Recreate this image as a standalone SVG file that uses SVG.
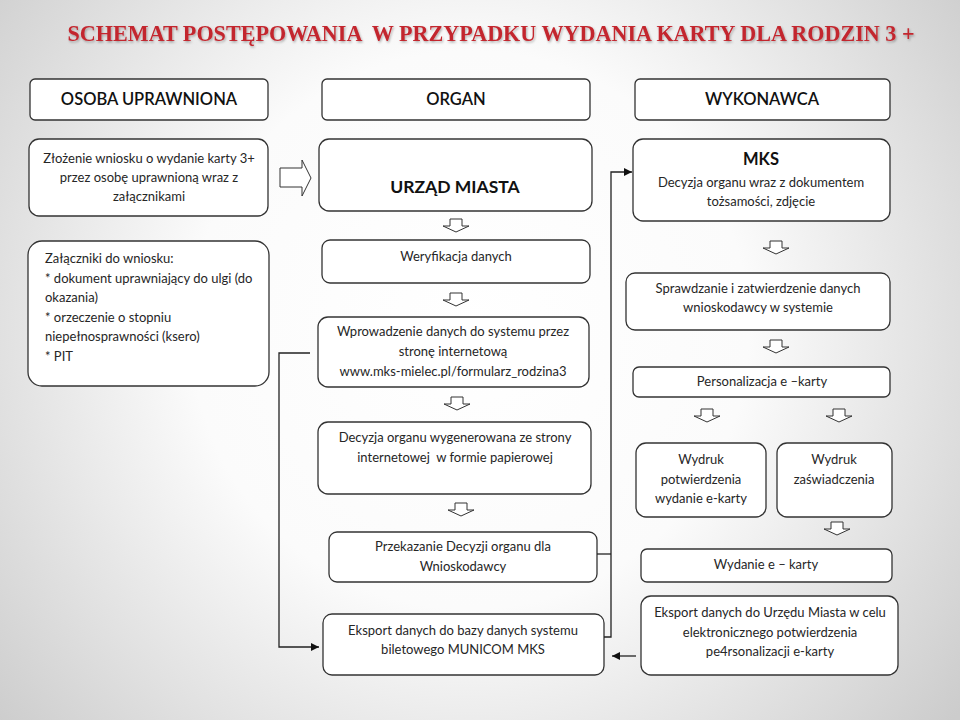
<svg xmlns="http://www.w3.org/2000/svg" width="960" height="720" viewBox="0 0 960 720">
<defs>
  <radialGradient id="bg" cx="470" cy="330" r="620" gradientUnits="userSpaceOnUse">
    <stop offset="0" stop-color="#ffffff"/>
    <stop offset="0.45" stop-color="#fbfbfb"/>
    <stop offset="1" stop-color="#cccccc"/>
  </radialGradient>
  <filter id="shadow" x="-5%" y="-30%" width="110%" height="160%">
    <feDropShadow dx="1" dy="1.5" stdDeviation="1" flood-color="#000" flood-opacity="0.3"/>
  </filter>
  <marker id="ah" viewBox="0 0 10 10" refX="10" refY="5" markerWidth="8" markerHeight="8" markerUnits="userSpaceOnUse" orient="auto">
    <path d="M0,0 L10,5 L0,10 Z" fill="#111"/>
  </marker>
  <path id="down" d="M-6,0 H6 V7 H13 L0,13 L-13,7 H-6 Z"/>
  <style>
    .box { fill: #ffffff; stroke: #333333; stroke-width: 1.3; }
    .t { font-family: Lato, "Liberation Sans", sans-serif; font-size: 13px; fill: #262626; text-anchor: middle; }
    .tl { font-family: Lato, "Liberation Sans", sans-serif; font-size: 13px; fill: #262626; }
    .h { font-family: Lato, "Liberation Sans", sans-serif; font-size: 16.5px; font-weight: 600; fill: #111; text-anchor: middle; }
    .hb { font-family: Lato, "Liberation Sans", sans-serif; font-size: 17.5px; font-weight: bold; fill: #111; text-anchor: middle; }
    .arr { fill: #ffffff; stroke: #333333; stroke-width: 1; }
    .conn { fill: none; stroke: #222; stroke-width: 1.3; }
  </style>
</defs>
<rect width="960" height="720" fill="url(#bg)"/>

<text x="491" y="41" font-family="'Liberation Serif', serif" font-size="23" font-weight="bold" fill="#c3262e" textLength="847" lengthAdjust="spacingAndGlyphs" text-anchor="middle" filter="url(#shadow)" xml:space="preserve">SCHEMAT POSTĘPOWANIA  W PRZYPADKU WYDANIA KARTY DLA RODZIN 3 +</text>

<g id="hdr-osoba"><rect class="box" x="30" y="79" width="238" height="41" rx="5"/><text class="h" x="149" y="105">OSOBA UPRAWNIONA</text></g>
<g id="hdr-organ"><rect class="box" x="322" y="79" width="268" height="41" rx="5"/><text class="h" x="456" y="105">ORGAN</text></g>
<g id="hdr-wykonawca"><rect class="box" x="635" y="79" width="255" height="41" rx="5"/><text class="h" x="762" y="105">WYKONAWCA</text></g>

<g id="zlozenie"><rect class="box" x="29" y="139" width="239" height="77" rx="10"/>
<text class="t" x="149" y="163">Złożenie wniosku o wydanie karty 3+</text>
<text class="t" x="149" y="182">przez osobę uprawnioną wraz z</text>
<text class="t" x="149" y="201">załącznikami</text></g>

<g id="zalaczniki"><rect class="box" x="28" y="241" width="241" height="145" rx="14"/>
<text class="tl" x="45" y="263">Załączniki do wniosku:</text>
<text class="tl" x="45" y="283">* dokument uprawniający do ulgi (do</text>
<text class="tl" x="45" y="302">okazania)</text>
<text class="tl" x="45" y="322">* orzeczenie o stopniu</text>
<text class="tl" x="45" y="341">niepełnosprawności (ksero)</text>
<text class="tl" x="45" y="361">* PIT</text></g>

<g id="urzad"><rect class="box" x="319" y="139" width="273" height="72" rx="10"/><text class="hb" x="455" y="193">URZĄD MIASTA</text></g>
<g id="weryfikacja"><rect class="box" x="322" y="240" width="268" height="43" rx="8"/><text class="t" x="456" y="261">Weryfikacja danych</text></g>
<g id="wprowadzenie"><rect class="box" x="318" y="317" width="271" height="70" rx="10"/>
<text class="t" x="453" y="336">Wprowadzenie danych do systemu przez</text>
<text class="t" x="453" y="356">stronę internetową</text>
<text class="t" x="453" y="376">www.mks-mielec.pl/formularz_rodzina3</text></g>
<g id="decyzja"><rect class="box" x="318" y="422" width="273" height="72" rx="10"/>
<text class="t" x="455" y="442">Decyzja organu wygenerowana ze strony</text>
<text class="t" x="455" y="462" xml:space="preserve">internetowej  w formie papierowej</text></g>
<g id="przekazanie"><rect class="box" x="329" y="532" width="268" height="50" rx="8"/>
<text class="t" x="463" y="551">Przekazanie Decyzji organu dla</text>
<text class="t" x="463" y="571">Wnioskodawcy</text></g>
<g id="eksport-mks"><rect class="box" x="323" y="614" width="281" height="61" rx="9"/>
<text class="t" x="463" y="635">Eksport danych do bazy danych systemu</text>
<text class="t" x="463" y="654">biletowego MUNICOM MKS</text></g>

<g id="mks"><rect class="box" x="633" y="139" width="257" height="82" rx="10"/>
<text class="hb" x="761" y="165" style="font-size:16.5px">MKS</text>
<text class="t" x="761" y="187">Decyzja organu wraz z dokumentem</text>
<text class="t" x="761" y="206">tożsamości, zdjęcie</text></g>
<g id="sprawdzanie"><rect class="box" x="626" y="273" width="264" height="57" rx="9"/>
<text class="t" x="758" y="293">Sprawdzanie i zatwierdzenie danych</text>
<text class="t" x="758" y="312">wnioskodawcy w systemie</text></g>
<g id="personalizacja"><rect class="box" x="633" y="367" width="257" height="30" rx="6"/>
<text class="t" x="762" y="386">Personalizacja e –karty</text></g>
<g id="wydruk-potw"><rect class="box" x="636" y="443" width="130" height="74" rx="10"/>
<text class="t" x="701" y="464">Wydruk</text>
<text class="t" x="701" y="484">potwierdzenia</text>
<text class="t" x="701" y="503">wydanie e-karty</text></g>
<g id="wydruk-zasw"><rect class="box" x="777" y="443" width="115" height="74" rx="10"/>
<text class="t" x="834" y="464">Wydruk</text>
<text class="t" x="834" y="484">zaświadczenia</text></g>
<g id="wydanie"><rect class="box" x="641" y="549" width="251" height="33" rx="6"/>
<text class="t" x="766" y="569">Wydanie e – karty</text></g>
<g id="eksport-um"><rect class="box" x="641" y="596" width="257" height="79" rx="10"/>
<text class="t" x="770" y="617">Eksport danych do Urzędu Miasta w celu</text>
<text class="t" x="770" y="637">elektronicznego potwierdzenia</text>
<text class="t" x="770" y="656">pe4rsonalizacji e-karty</text></g>

<g id="connectors">
  <path class="arr" d="M280,168 H302 V160 L311,178 L302,196 V187 H280 Z"/>
  <use href="#down" class="arr" x="456" y="219"/>
  <use href="#down" class="arr" x="456" y="293"/>
  <use href="#down" class="arr" x="457" y="397"/>
  <use href="#down" class="arr" x="461" y="503"/>
  <use href="#down" class="arr" x="776" y="241"/>
  <use href="#down" class="arr" x="776" y="340"/>
  <use href="#down" class="arr" x="707" y="409"/>
  <use href="#down" class="arr" x="839" y="409"/>
  <use href="#down" class="arr" x="837" y="522"/>
  <path class="conn" d="M310,353 H279 V647 H319" marker-end="url(#ah)"/>
  <path class="conn" d="M604,637 H611 V172 H632" marker-end="url(#ah)"/>
  <path class="conn" d="M597,554 H611"/>
  <path class="conn" d="M636,656 H612" marker-end="url(#ah)"/>
</g>
</svg>
